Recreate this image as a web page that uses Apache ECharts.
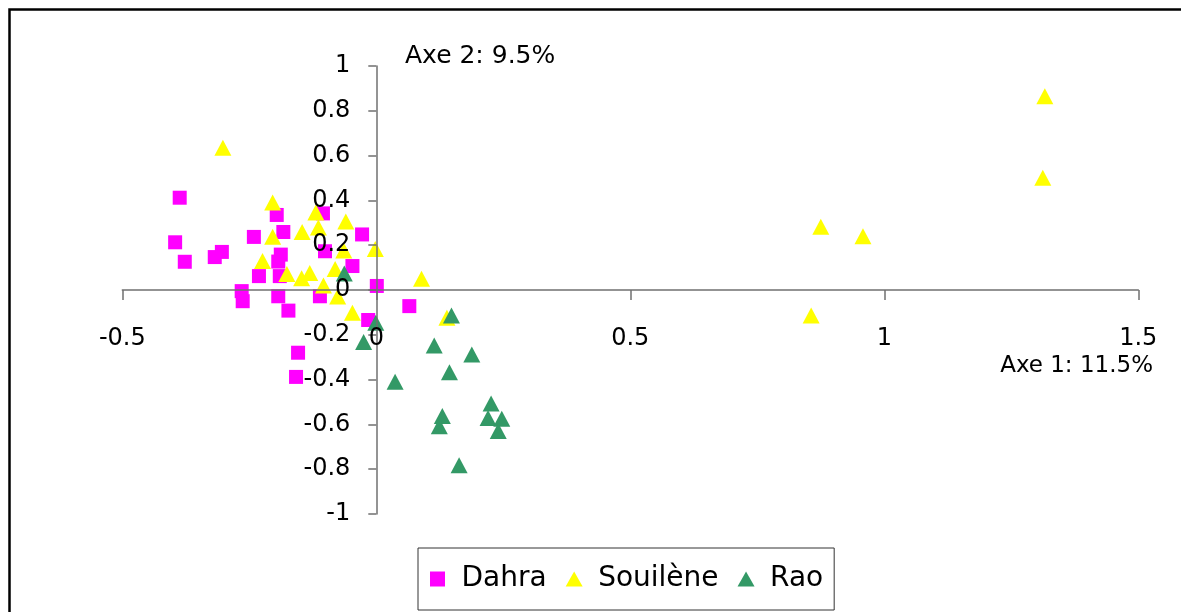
<!DOCTYPE html>
<html>
<head>
<meta charset="utf-8">
<script src="https://cdn.jsdelivr.net/npm/echarts@6/dist/echarts.min.js"></script>
<style>
html,body{margin:0;padding:0;background:#fff;}
#chart{width:1181px;height:612px;}
</style>
</head>
<body>
<div id="chart"></div>
<script>
// Series names
const seriesNames = ['Dahra', 'Souilène', 'Rao'];

// Axis 1 (x) / Axis 2 (y) coordinates
const dahraPoints = [
  [-0.387, 0.412], [-0.396, 0.213], [-0.377, 0.126], [-0.318, 0.147], [-0.304, 0.170],
  [-0.241, 0.237], [-0.196, 0.335], [-0.183, 0.259], [-0.188, 0.158], [-0.193, 0.127],
  [-0.231, 0.062], [-0.190, 0.062], [-0.265, -0.005], [-0.263, -0.050], [-0.193, -0.028],
  [-0.173, -0.092], [-0.154, -0.280], [-0.158, -0.388], [-0.111, -0.028], [-0.105, 0.342],
  [-0.101, 0.173], [-0.047, 0.107], [-0.028, 0.248], [0.001, 0.018], [-0.016, -0.134],
  [0.065, -0.072]
];
const souilenePoints = [
  [-0.302, 0.635], [-0.204, 0.391], [-0.204, 0.238], [-0.224, 0.129], [-0.146, 0.259],
  [-0.119, 0.346], [-0.114, 0.279], [-0.060, 0.306], [-0.002, 0.183], [-0.064, 0.176],
  [-0.176, 0.071], [-0.147, 0.053], [-0.131, 0.076], [-0.081, 0.094], [-0.104, 0.020],
  [-0.076, -0.029], [-0.047, -0.102], [0.089, 0.050], [0.139, -0.124], [0.856, -0.114],
  [0.875, 0.282], [0.958, 0.240], [1.312, 0.501], [1.316, 0.865]
];
const raoPoints = [
  [-0.063, 0.074], [-0.001, -0.146], [-0.025, -0.232], [0.037, -0.410], [0.114, -0.248],
  [0.148, -0.114], [0.188, -0.288], [0.144, -0.367], [0.130, -0.563], [0.124, -0.608],
  [0.226, -0.507], [0.220, -0.571], [0.247, -0.575], [0.240, -0.630], [0.163, -0.782]
];

// Axis ranges [min, max, interval] and annotation texts
const xRange = [-0.5, 1.5, 0.5];
const yRange = [-1, 1, 0.2];
const axisTitles = ['Axe 1: 11.5%', 'Axe 2: 9.5%'];

const FONT = 'DejaVu Sans';

// Grid box in pixels
const GRID = {left: 122.3, right: 42.7, top: 66, bottom: 98};
const W = 1181, H = 612;
const plotW = W - GRID.left - GRID.right;
const plotH = H - GRID.top - GRID.bottom;
// Offsets that bring each axis onto the other axis's zero (labels follow the line)
const xAxisOffset = -plotH * (0 - yRange[0]) / (yRange[1] - yRange[0]);
const yAxisOffset = -plotW * (0 - xRange[0]) / (xRange[1] - xRange[0]);

const SQUARE_ICON = 'path://M0,0L14,0L14,14L0,14Z';
const TRIANGLE_ICON = 'path://M8.5,0L17,15L0,15Z';

const chart = echarts.init(document.getElementById('chart'), null, {renderer: 'canvas'});

const lineCol = '#707070';

chart.setOption({
  animation: false,
  backgroundColor: '#fff',
  grid: Object.assign({containLabel: false, outerBoundsMode: 'none'}, GRID),
  xAxis: {
    type: 'value', position: 'bottom', offset: xAxisOffset, z: 5,
    min: xRange[0], max: xRange[1], interval: xRange[2],
    splitLine: {show: false},
    axisLine: {show: true, onZero: false, lineStyle: {color: lineCol, width: 1.5}},
    axisTick: {show: true, inside: false, length: 10, lineStyle: {color: lineCol, width: 1.5}},
    axisLabel: {color: '#000', fontFamily: FONT, fontSize: 24, margin: 37}
  },
  yAxis: {
    type: 'value', position: 'left', offset: yAxisOffset, z: 5,
    min: yRange[0], max: yRange[1], interval: yRange[2],
    splitLine: {show: false},
    axisLine: {show: true, onZero: false, lineStyle: {color: lineCol, width: 1.5}},
    axisTick: {show: true, inside: false, length: 8, lineStyle: {color: lineCol, width: 1.5}},
    axisLabel: {color: '#000', fontFamily: FONT, fontSize: 24, margin: 26}
  },
  legend: {
    left: 418, top: 548,
    orient: 'horizontal',
    borderColor: '#333', borderWidth: 1,
    backgroundColor: '#fff',
    padding: [14, 11, 14, 12],
    itemGap: 19,
    itemWidth: 17, itemHeight: 15,
    symbolKeepAspect: true,
    data: [
      {name: seriesNames[0], icon: SQUARE_ICON},
      {name: seriesNames[1], icon: TRIANGLE_ICON},
      {name: seriesNames[2], icon: TRIANGLE_ICON}
    ],
    formatter: '{p| }{n|{name}}',
    textStyle: {
      color: '#000', fontFamily: FONT, fontSize: 28, lineHeight: 34,
      rich: {
        p: {width: 10.5, fontSize: 28, lineHeight: 34},
        n: {color: '#000', fontFamily: FONT, fontSize: 28, lineHeight: 34}
      }
    }
  },
  graphic: [
    {type: 'polyline', z: 100, silent: true, shape: {points: [[9.5, 800], [9.5, 9.5], [1400, 9.5]]},
     style: {fill: 'none', stroke: '#000', lineWidth: 2.5}},
    {type: 'text', z: 100, left: 405, top: 44,
     style: {text: axisTitles[1], fill: '#000', font: '25px "' + FONT + '"'}},
    {type: 'text', z: 100, right: 28, top: 355,
     style: {text: axisTitles[0], fill: '#000', font: '23px "' + FONT + '"'}}
  ],
  series: [
    {name: seriesNames[0], type: 'scatter', symbol: 'rect', symbolSize: 14,
     itemStyle: {color: '#FF00FF', opacity: 1}, data: dahraPoints, z: 2},
    {name: seriesNames[1], type: 'scatter', symbol: 'triangle', symbolSize: [17, 16],
     itemStyle: {color: '#FFFF00', opacity: 1}, data: souilenePoints, z: 2},
    {name: seriesNames[2], type: 'scatter', symbol: 'triangle', symbolSize: [17, 16],
     itemStyle: {color: '#339966', opacity: 1}, data: raoPoints, z: 2}
  ]
});
</script>
</body>
</html>
